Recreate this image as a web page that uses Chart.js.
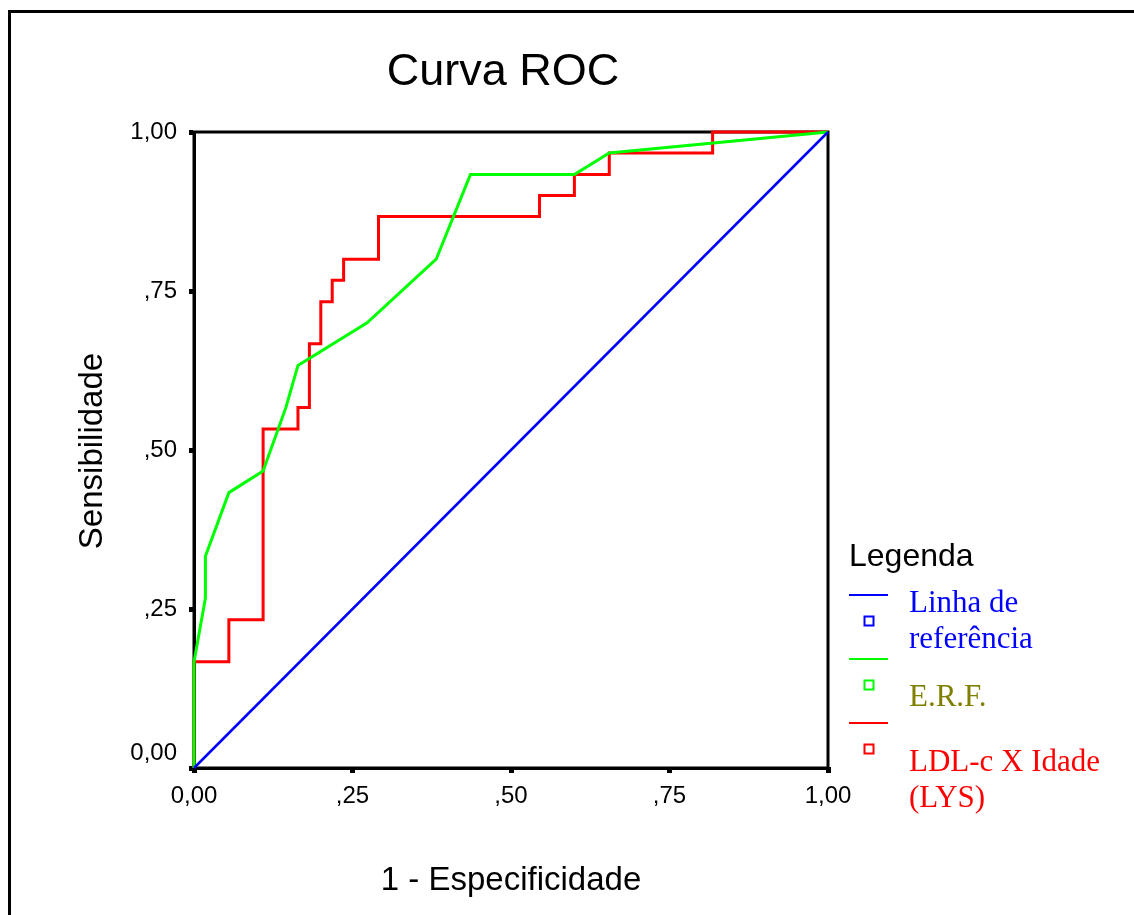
<!DOCTYPE html>
<html>
<head>
<meta charset="utf-8">
<title>Curva ROC</title>
<script src="https://cdn.jsdelivr.net/npm/chart.js@4/dist/chart.umd.min.js"></script>
<style>
  html, body { margin: 0; padding: 0; background: #fff; }
  #wrap { width: 1134px; height: 915px; }
</style>
</head>
<body>
<div id="wrap"><canvas id="rocChart" width="1134" height="915"></canvas></div>
<script>
// ===== Curva ROC =====

// eixos
const xTickLabels = ["0,00", ",25", ",50", ",75", "1,00"];
const yTickLabels = ["0,00", ",25", ",50", ",75", "1,00"];

// linha de referência
const refFpr = [0, 1];
const refTpr = [0, 1];

// E.R.F.
const erfFpr = [0, 0, 0.018, 0.018, 0.055, 0.109, 0.145, 0.164, 0.273, 0.382, 0.436, 0.600, 0.655, 1];
const erfTpr = [0, 0.167, 0.267, 0.333, 0.433, 0.467, 0.567, 0.633, 0.700, 0.800, 0.933, 0.933, 0.967, 1];

// LDL-c X Idade (LYS)
const ldlFpr = [0, 0, 0.055, 0.055, 0.109, 0.109, 0.164, 0.164, 0.182, 0.182, 0.200, 0.200, 0.218, 0.218,
                0.236, 0.236, 0.291, 0.291, 0.545, 0.545, 0.600, 0.600, 0.655, 0.655, 0.818, 0.818, 1];
const ldlTpr = [0, 0.167, 0.167, 0.233, 0.233, 0.533, 0.533, 0.567, 0.567, 0.667, 0.667, 0.733, 0.733, 0.767,
                0.767, 0.800, 0.800, 0.867, 0.867, 0.900, 0.900, 0.933, 0.933, 0.967, 0.967, 1, 1];

// legenda
const legendTitle = "Legenda";
const legendLabels = [["Linha de", "referência"], ["E.R.F."], ["LDL-c X Idade", "(LYS)"]];
const legendTextColors = ["#0000ff", "#808000", "#ff0000"];

const toPoints = (xs, ys) => xs.map((x, i) => ({ x: x, y: ys[i] }));

const SANS = "'Liberation Sans', Arial, sans-serif";
const SERIF = "'Liberation Serif', 'Times New Roman', serif";

// moldura externa, caixa do gráfico, títulos e legenda
const spssDecor = {
  id: "spssDecor",
  beforeDatasetsDraw(chart) {
    const { ctx, chartArea: a } = chart;
    ctx.save();
    ctx.strokeStyle = "#000";
    ctx.lineWidth = 3;
    ctx.strokeRect(a.left, a.top, a.right - a.left, a.bottom - a.top);
    ctx.restore();
  },
  afterDraw(chart) {
    const { ctx, chartArea: a } = chart;
    ctx.save();

    // moldura
    ctx.strokeStyle = "#000";
    ctx.lineWidth = 3;
    ctx.beginPath();
    ctx.moveTo(9.5, 915);
    ctx.lineTo(9.5, 11.5);
    ctx.lineTo(1134, 11.5);
    ctx.stroke();

    // título
    ctx.fillStyle = "#000";
    ctx.textAlign = "center";
    ctx.textBaseline = "alphabetic";
    ctx.font = "45px " + SANS;
    ctx.fillText("Curva ROC", 503, 85);

    // títulos dos eixos
    ctx.font = "33px " + SANS;
    ctx.fillText("1 - Especificidade", (a.left + a.right) / 2, 890);
    ctx.save();
    ctx.translate(102, 451);
    ctx.rotate(-Math.PI / 2);
    ctx.fillText("Sensibilidade", 0, 0);
    ctx.restore();

    // legenda
    ctx.textAlign = "left";
    ctx.font = "32px " + SANS;
    ctx.fillText(legendTitle, 849, 566);
    const textOffsets = [17, 47, 48];
    chart.data.datasets.forEach((ds, i) => {
      const ly = 595 + i * 64;
      ctx.strokeStyle = ds.borderColor;
      ctx.lineWidth = 2;
      ctx.beginPath();
      ctx.moveTo(849, ly);
      ctx.lineTo(888, ly);
      ctx.stroke();
      ctx.strokeRect(864.5, ly + 21.5, 9, 9);
      ctx.fillStyle = legendTextColors[i];
      ctx.font = "31px " + SERIF;
      legendLabels[i].forEach((line, j) => {
        ctx.fillText(line, 909, ly + textOffsets[i] + j * 36);
      });
    });
    ctx.restore();
  }
};

const ctx = document.getElementById("rocChart");
new Chart(ctx, {
  type: "scatter",
  data: {
    datasets: [
      { label: "Linha de referência", data: toPoints(refFpr, refTpr),
        borderColor: "#0000ff", borderWidth: 2.5, showLine: true, pointRadius: 0, clip: 4 },
      { label: "E.R.F.", data: toPoints(erfFpr, erfTpr),
        borderColor: "#00ff00", borderWidth: 3, showLine: true, pointRadius: 0, clip: 4 },
      { label: "LDL-c X Idade (LYS)", data: toPoints(ldlFpr, ldlTpr),
        borderColor: "#ff0000", borderWidth: 3, showLine: true, pointRadius: 0, clip: 4 }
    ]
  },
  options: {
    responsive: false,
    animation: false,
    layout: { padding: { left: 0, top: 132, right: 306, bottom: 107 } },
    plugins: { legend: { display: false }, tooltip: { enabled: false }, title: { display: false } },
    scales: {
      x: {
        type: "linear", min: 0, max: 1,
        afterFit: (s) => { s.height = 40; },
        border: { color: "#000", width: 3 },
        grid: { drawOnChartArea: false, color: "#000", lineWidth: 5, tickLength: 5 },
        ticks: { stepSize: 0.25, color: "#000", padding: 9, maxRotation: 0,
                 font: { family: SANS, size: 24 },
                 callback: (v, i) => xTickLabels[i] }
      },
      y: {
        type: "linear", min: 0, max: 1,
        afterFit: (s) => { s.width = 194; },
        border: { color: "#000", width: 3 },
        grid: { drawOnChartArea: false, color: "#000", lineWidth: 5, tickLength: 5 },
        ticks: { stepSize: 0.25, color: "#000", padding: 12,
                 font: { family: SANS, size: 24 },
                 // o rótulo 0,00 fica um pouco acima do eixo, como no original
                 callback: (v, i) => (i === 0 ? [yTickLabels[i], ""] : yTickLabels[i]) }
      }
    }
  },
  plugins: [spssDecor]
});
</script>
</body>
</html>
